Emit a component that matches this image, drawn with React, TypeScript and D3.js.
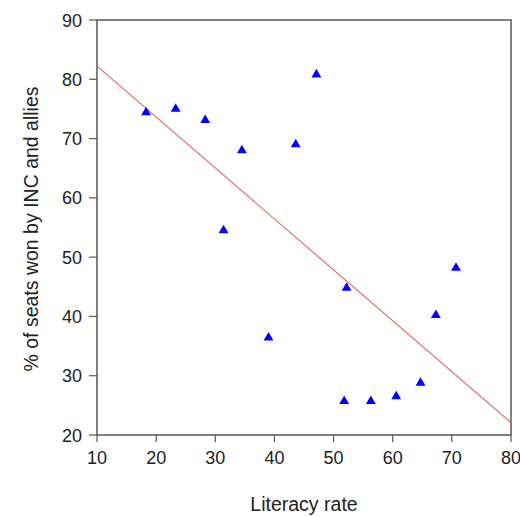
import React from "react";
import * as d3 from "d3";

// Literacy rate (%) vs. share of seats won by INC and allies (%)
const literacy = [18.3, 23.3, 28.3, 34.5, 43.6, 47.1, 31.4, 39.0, 52.2, 70.7, 67.3, 64.7, 60.6, 56.3, 51.8];
const seats = [74.4, 75.0, 73.1, 68.0, 69.0, 80.8, 54.5, 36.4, 44.8, 48.2, 40.2, 28.8, 26.5, 25.7, 25.7];

// Fitted line: seats = intercept + slope * literacy
const fitIntercept = 90.8;
const fitSlope = -0.859;

const xTicks = [10, 20, 30, 40, 50, 60, 70, 80];
const yTicks = [20, 30, 40, 50, 60, 70, 80, 90];

const xLabel = "Literacy rate";
const yLabel = "% of seats won by INC and allies";

export default function App() {
  const width = 520;
  const height = 517;
  const left = 97;
  const right = 511;
  const top = 20;
  const bottom = 435;

  const x = d3.scaleLinear().domain([10, 80]).range([left, right]);
  const y = d3.scaleLinear().domain([20, 90]).range([bottom, top]);

  const fitLine = d3
    .line<number>()
    .x((d) => x(d))
    .y((d) => y(fitIntercept + fitSlope * d));

  const tri = d3.symbol().type(d3.symbolTriangle).size(42)() as string;

  const font = "'Liberation Sans', Arial, sans-serif";
  const axisColor = "#555";
  const textColor = "#222";

  return (
    <svg
      width={width}
      height={height}
      style={{ position: "absolute", left: 0, top: 0, background: "#fff" }}
      fontFamily={font}
    >
      {/* frame */}
      <rect
        x={left}
        y={top}
        width={right - left}
        height={bottom - top}
        fill="none"
        stroke={axisColor}
        strokeWidth={1.5}
      />
      {/* x ticks */}
      {xTicks.map((t) => (
        <g key={"x" + t}>
          <line x1={x(t)} x2={x(t)} y1={bottom} y2={bottom + 7} stroke={axisColor} strokeWidth={1.2} />
          <text x={x(t)} y={463.5} textAnchor="middle" fontSize={18} fill={textColor}>
            {t}
          </text>
        </g>
      ))}
      {/* y ticks */}
      {yTicks.map((t) => (
        <g key={"y" + t}>
          <line x1={left - 8} x2={left} y1={y(t)} y2={y(t)} stroke={axisColor} strokeWidth={1.2} />
          <text x={82} y={y(t) + 6.5} textAnchor="end" fontSize={18} fill={textColor}>
            {t}
          </text>
        </g>
      ))}
      {/* fitted line */}
      <path d={fitLine([10, 80]) || ""} fill="none" stroke="#e06666" strokeWidth={1.1} />
      {/* points */}
      {literacy.map((lx, i) => (
        <path
          key={i}
          d={tri}
          transform={`translate(${x(lx)},${y(seats[i])})`}
          fill="#0000ff"
        />
      ))}
      {/* axis titles */}
      <text x={304} y={511} textAnchor="middle" fontSize={19.5} fill={textColor}>
        {xLabel}
      </text>
      <text
        transform={`translate(38,229) rotate(-90)`}
        textAnchor="middle"
        fontSize={19.5}
        fill={textColor}
      >
        {yLabel}
      </text>
    </svg>
  );
}
